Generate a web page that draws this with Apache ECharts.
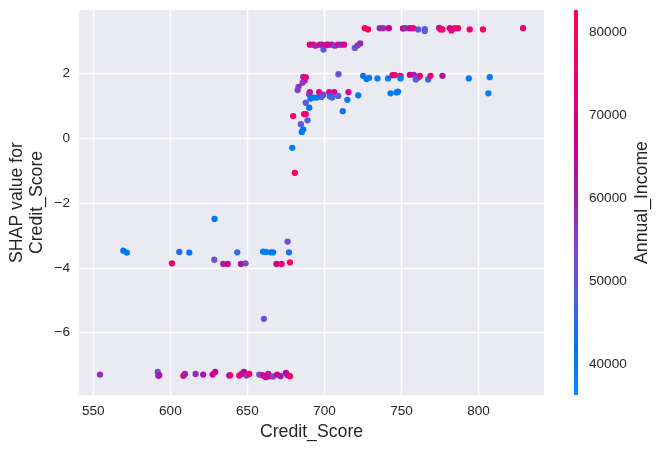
<!DOCTYPE html>
<html>
<head>
<meta charset="utf-8">
<script src="https://cdn.jsdelivr.net/npm/echarts@6/dist/echarts.min.js"></script>
<style>
html,body{margin:0;padding:0;background:#fff;}
#chart{width:663px;height:451px;}
</style>
</head>
<body>
<div id="chart"></div>
<script>
// Credit_Score (x), SHAP value (y), Annual_Income (colour)
const creditScore = [
  726.2,728.3,735.9,738.1,741.8,751.0,752.6,755.4,757.5,760.8,765.1,765.1,774.4,775.3,776.6,781.3,782.4,784.6,786.7,794.3,802.9,828.9,
  690.5,692.7,694.2,697.0,698.5,699.4,701.4,702.4,704.6,706.7,708.9,710.6,712.8,719.7,721.5,723.2,
  709.1,725.1,727.3,729.0,734.4,741.3,744.2,745.7,749.4,749.4,755.4,758.0,759.3,760.8,761.9,767.3,768.8,776.6,793.7,807.3,806.4,747.8,746.8,742.9,721.9,714.9,711.9,715.6,
  686.2,687.9,687.1,685.8,683.2,682.6,690.5,690.1,696.6,699.2,698.1,694.9,692.7,691.0,687.9,690.1,703.1,706.3,703.5,705.0,708.9,687.9,686.8,679.7,689.0,684.7,686.2,685.3,679.1,680.8,
  628.7,569.5,571.7,605.8,612.3,601.0,628.5,634.3,637.2,643.4,645.8,648.8,660.2,662.0,665.2,666.7,668.9,672.2,676.1,677.0,677.6,660.7,
  554.3,591.8,592.8,592.2,608.4,609.5,616.4,621.3,627.4,629.1,638.2,638.7,644.7,646.2,647.7,649.5,651.2,657.7,659.9,661.3,663.5,662.0,664.6,666.7,669.3,671.5,675.0,676.1,677.6
];
const shapValue = [
  3.39,3.35,3.39,3.39,3.39,3.38,3.39,3.39,3.39,3.35,3.36,3.30,3.40,3.35,3.35,3.39,3.32,3.39,3.39,3.35,3.35,3.39,
  2.88,2.88,2.85,2.88,2.88,2.73,2.88,2.88,2.88,2.85,2.88,2.88,2.88,2.78,2.86,2.92,
  1.97,1.92,1.82,1.86,1.84,1.84,1.94,1.94,1.92,1.84,1.95,1.95,1.81,1.87,1.92,1.81,1.92,1.92,1.84,1.88,1.38,1.43,1.41,1.38,1.32,1.18,0.83,1.42,
  1.89,1.87,1.78,1.71,1.58,1.48,1.42,1.35,1.42,1.34,1.27,1.25,1.25,1.22,1.09,0.94,1.42,1.42,1.29,1.25,1.30,0.74,0.74,0.68,0.55,0.43,0.27,0.19,-0.30,-1.07,
  -2.49,-3.47,-3.53,-3.51,-3.53,-3.86,-3.75,-3.88,-3.88,-3.52,-3.88,-3.86,-3.50,-3.51,-3.52,-3.52,-3.88,-3.88,-3.19,-3.52,-3.83,-5.57,
  -7.29,-7.21,-7.31,-7.33,-7.33,-7.27,-7.27,-7.29,-7.29,-7.21,-7.32,-7.31,-7.32,-7.27,-7.21,-7.32,-7.27,-7.29,-7.31,-7.34,-7.27,-7.37,-7.34,-7.35,-7.29,-7.34,-7.24,-7.31,-7.34
];
const annualIncome = [
  78000,80000,60000,58000,66000,68000,58000,64000,74000,50000,50000,50000,60000,78000,78000,68000,76000,70000,78000,76000,78000,74000,
  68000,78000,58000,70000,60000,50000,78000,68000,60000,56000,70000,58000,70000,50000,56000,58000,
  52000,42000,43000,42000,40000,40000,74000,76000,78000,40000,68000,60000,50000,48000,76000,46000,76000,62000,40000,40000,40000,40000,42000,41000,40000,40000,43000,68000,
  58000,78000,74000,56000,58000,54000,70000,58000,72000,56000,50000,42000,42000,42000,50000,42000,68000,72000,44000,48000,50000,74000,76000,78000,50000,50000,42000,42000,40000,78000,
  42000,42000,42000,45000,42000,78000,52000,60000,68000,46000,62000,54000,40000,40000,42000,42000,68000,76000,52000,44000,78000,52000,
  58000,52000,66000,60000,78000,60000,58000,62000,68000,66000,58000,76000,78000,70000,66000,54000,76000,52000,78000,66000,60000,62000,76000,54000,68000,60000,66000,62000,78000
];
const xTickValues = [550, 600, 650, 700, 750, 800];
const yTickValues = [-6, -4, -2, 0, 2];
const incomeTickValues = [40000, 50000, 60000, 70000, 80000];

const incomeMin = 36260, incomeMax = 82690;
const cmapStops = [
  [0.0, 'rgb(0,139,251)'], [0.125, 'rgb(0,120,243)'], [0.25, 'rgb(75,99,227)'],
  [0.375, 'rgb(125,73,203)'], [0.5, 'rgb(155,36,173)'], [0.625, 'rgb(194,0,156)'],
  [0.75, 'rgb(224,0,134)'], [0.875, 'rgb(245,0,109)'], [1.0, 'rgb(255,0,81)']
];

const points = creditScore.map((x, i) => [x, shapValue[i], annualIncome[i]]);
const FONT = '"Liberation Sans", Arial, sans-serif';
const TXT = '#262626';

const chart = echarts.init(document.getElementById('chart'), null, {renderer: 'canvas'});
chart.setOption({
  backgroundColor: '#ffffff',
  animation: false,
  textStyle: {fontFamily: FONT},
  grid: [
    {left: 79, right: 119, top: 10, bottom: 56, show: true, backgroundColor: '#EAEAF2', borderWidth: 0,
     containLabel: false, outerBoundsMode: 'none'},
    {left: 574, width: 4, top: 10, bottom: 56, show: true, borderWidth: 0,
     containLabel: false, outerBoundsMode: 'none',
     backgroundColor: new echarts.graphic.LinearGradient(0, 1, 0, 0,
        cmapStops.map(s => ({offset: s[0], color: s[1]})))}
  ],
  xAxis: [
    {gridIndex: 0, type: 'value', min: 540.7, max: 842.5,
     axisLine: {show: false},
     axisTick: {show: false, customValues: xTickValues},
     axisLabel: {color: TXT, fontSize: 13.6, fontFamily: FONT, margin: 9,
       customValues: xTickValues, formatter: v => String(v)},
     splitLine: {show: true, lineStyle: {color: '#ffffff', width: 1.4}},
     name: 'Credit_Score', nameLocation: 'middle', nameGap: 28, nameMoveOverlap: false,
     nameTextStyle: {color: TXT, fontSize: 17.7, fontFamily: FONT}},
    {gridIndex: 1, type: 'value', show: false, min: 0, max: 1}
  ],
  yAxis: [
    {gridIndex: 0, type: 'value', min: -7.92, max: 3.95,
     axisLine: {show: false},
     axisTick: {show: false, customValues: yTickValues},
     axisLabel: {color: TXT, fontSize: 13.6, fontFamily: FONT, margin: 9,
       customValues: yTickValues, formatter: v => (v < 0 ? '\u2212' + Math.abs(v) : String(v))},
     splitLine: {show: true, lineStyle: {color: '#ffffff', width: 1.4}},
     name: 'SHAP value for\nCredit_Score', nameLocation: 'middle', nameGap: 32, nameMoveOverlap: false,
     nameTextStyle: {color: TXT, fontSize: 17.7, fontFamily: FONT, lineHeight: 20, align: 'center'}},
    {gridIndex: 1, type: 'value', position: 'right', min: incomeMin, max: incomeMax,
     axisLine: {show: false},
     axisTick: {show: false, customValues: incomeTickValues},
     splitLine: {show: false},
     axisLabel: {color: TXT, fontSize: 13.6, fontFamily: FONT, margin: 11,
       customValues: incomeTickValues, formatter: v => String(v)},
     name: 'Annual_Income', nameLocation: 'middle', nameGap: 55, nameRotate: 90, nameMoveOverlap: false,
     nameTextStyle: {color: TXT, fontSize: 17.7, fontFamily: FONT}}
  ],
  visualMap: {
    show: false, type: 'continuous', dimension: 2, seriesIndex: 0,
    min: incomeMin, max: incomeMax,
    inRange: {color: cmapStops.map(s => s[1])}
  },
  series: [{
    type: 'scatter', xAxisIndex: 0, yAxisIndex: 0,
    symbolSize: 6.3, data: points,
    itemStyle: {opacity: 1, borderWidth: 0}
  }]
});
</script>
</body>
</html>
